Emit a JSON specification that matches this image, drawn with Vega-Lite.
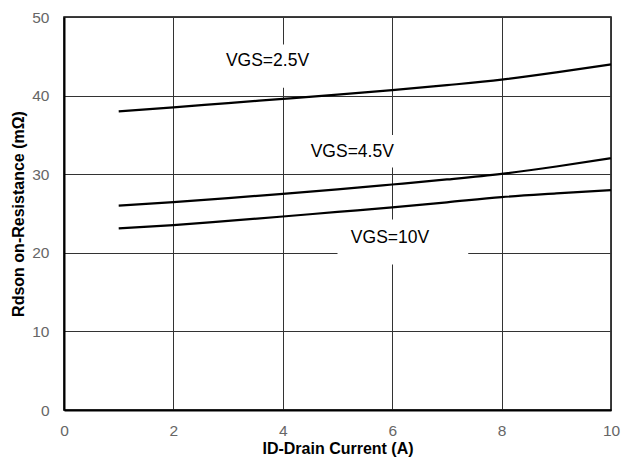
{
  "$schema": "https://vega.github.io/schema/vega-lite/v6.json",
  "width": 547,
  "height": 393,
  "autosize": {"type": "none"},
  "padding": {"left": 64, "top": 17, "right": 10, "bottom": 53},
  "background": "white",
  "config": {
    "view": {"stroke": "#000", "strokeWidth": 1.5},
    "font": "Liberation Sans",
    "axis": {
      "grid": true,
      "gridColor": "#333",
      "gridWidth": 1,
      "ticks": false,
      "tickSize": 0,
      "domain": true,
      "domainColor": "#000",
      "domainWidth": 2,
      "labelFont": "Liberation Sans",
      "labelFontSize": 15.5,
      "labelColor": "#666",
      "labelFlush": false,
      "labelOverlap": false,
      "titleFont": "Liberation Sans",
      "titleFontSize": 16,
      "titleFontWeight": "bold",
      "titleColor": "#000"
    },
    "axisX": {"labelPadding": 13, "titleBaseline": "alphabetic", "titleY": 43.5, "titleX": 273.5},
    "axisY": {"labelPadding": 15, "titleBaseline": "alphabetic", "titleX": -41, "titleY": 196.5}
  },
  "datasets": {
    "curves": [
      {"series": "VGS=2.5V", "current": 1, "rdson": 38.0},
      {"series": "VGS=2.5V", "current": 2, "rdson": 38.5},
      {"series": "VGS=2.5V", "current": 3, "rdson": 39.05},
      {"series": "VGS=2.5V", "current": 4, "rdson": 39.58},
      {"series": "VGS=2.5V", "current": 5, "rdson": 40.12},
      {"series": "VGS=2.5V", "current": 6, "rdson": 40.7},
      {"series": "VGS=2.5V", "current": 7, "rdson": 41.33},
      {"series": "VGS=2.5V", "current": 8, "rdson": 42.03},
      {"series": "VGS=2.5V", "current": 9, "rdson": 42.95},
      {"series": "VGS=2.5V", "current": 10, "rdson": 43.98},
      {"series": "VGS=4.5V", "current": 1, "rdson": 26.0},
      {"series": "VGS=4.5V", "current": 2, "rdson": 26.44},
      {"series": "VGS=4.5V", "current": 3, "rdson": 26.96},
      {"series": "VGS=4.5V", "current": 4, "rdson": 27.5},
      {"series": "VGS=4.5V", "current": 5, "rdson": 28.07},
      {"series": "VGS=4.5V", "current": 6, "rdson": 28.69},
      {"series": "VGS=4.5V", "current": 7, "rdson": 29.33},
      {"series": "VGS=4.5V", "current": 8, "rdson": 30.05},
      {"series": "VGS=4.5V", "current": 9, "rdson": 30.98},
      {"series": "VGS=4.5V", "current": 10, "rdson": 32.03},
      {"series": "VGS=10V", "current": 1, "rdson": 23.1},
      {"series": "VGS=10V", "current": 2, "rdson": 23.52},
      {"series": "VGS=10V", "current": 3, "rdson": 24.06},
      {"series": "VGS=10V", "current": 4, "rdson": 24.62},
      {"series": "VGS=10V", "current": 5, "rdson": 25.2},
      {"series": "VGS=10V", "current": 6, "rdson": 25.77},
      {"series": "VGS=10V", "current": 7, "rdson": 26.42},
      {"series": "VGS=10V", "current": 8, "rdson": 27.08},
      {"series": "VGS=10V", "current": 9, "rdson": 27.55},
      {"series": "VGS=10V", "current": 10, "rdson": 27.97}
    ],
    "labels": [
      {"label": "VGS=2.5V", "x": 3.72, "y": 44.36, "x_lo": 2.7, "x_hi": 4.75, "y_lo": 41.0, "y_hi": 46.5},
      {"label": "VGS=4.5V", "x": 5.27, "y": 32.88, "x_lo": 4.3, "x_hi": 6.25, "y_lo": 30.85, "y_hi": 35.0},
      {"label": "VGS=10V", "x": 5.96, "y": 21.9, "x_lo": 5.0, "x_hi": 7.39, "y_lo": 18.5, "y_hi": 24.24}
    ]
  },
  "layer": [
    {
      "data": {"name": "labels"},
      "mark": {"type": "rect", "fill": "white", "stroke": null},
      "encoding": {
        "x": {"field": "x_lo", "type": "quantitative", "scale": {"domain": [0, 10], "nice": false}, "title": "ID-Drain Current (A)", "axis": {"values": [0, 2, 4, 6, 8, 10]}},
        "x2": {"field": "x_hi"},
        "y": {"field": "y_lo", "type": "quantitative", "scale": {"domain": [0, 50], "nice": false}, "title": "Rdson on-Resistance (mΩ)", "axis": {"values": [0, 10, 20, 30, 40, 50]}},
        "y2": {"field": "y_hi"}
      }
    },
    {
      "data": {"name": "curves"},
      "mark": {"type": "line", "color": "#000", "strokeWidth": 2.2, "interpolate": "monotone"},
      "encoding": {
        "x": {"field": "current", "type": "quantitative", "title": "ID-Drain Current (A)", "axis": {"values": [0, 2, 4, 6, 8, 10]}},
        "y": {"field": "rdson", "type": "quantitative", "title": "Rdson on-Resistance (mΩ)", "axis": {"values": [0, 10, 20, 30, 40, 50]}},
        "detail": {"field": "series"}
      }
    },
    {
      "data": {"name": "labels"},
      "mark": {"type": "text", "font": "Liberation Sans", "fontSize": 17.5, "color": "#000", "align": "center", "baseline": "middle"},
      "encoding": {
        "x": {"field": "x", "type": "quantitative", "title": "ID-Drain Current (A)", "axis": {"values": [0, 2, 4, 6, 8, 10]}},
        "y": {"field": "y", "type": "quantitative", "title": "Rdson on-Resistance (mΩ)", "axis": {"values": [0, 10, 20, 30, 40, 50]}},
        "text": {"field": "label"}
      }
    }
  ]
}
